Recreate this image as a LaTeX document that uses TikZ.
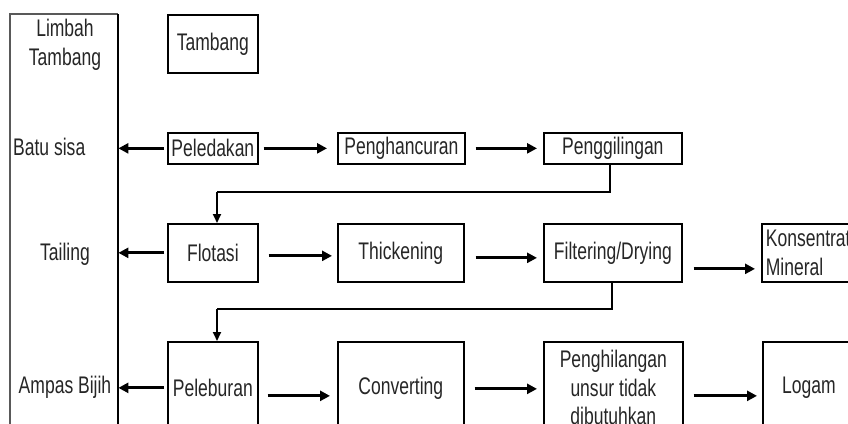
\documentclass[tikz,border=0pt]{standalone}
\usepackage{fontspec}
\setmainfont{Liberation Sans}[FakeStretch=0.73]
\usetikzlibrary{arrows.meta,calc}
\begin{document}
\begin{tikzpicture}[x=1pt,y=-1pt,
  txt/.style={font=\fontsize{24}{28.5}\selectfont, text=black!85},
  box/.style={txt, draw=black, line width=1.7pt, inner sep=0pt, anchor=north west, align=center},
  lbl/.style={txt, inner sep=0pt},
  arr/.style={line width=2.8pt, -{Triangle[length=10pt,width=10pt]}},
  conn/.style={line width=1.7pt},
  connarr/.style={line width=1.7pt, -{Triangle[length=9pt,width=8pt]}}]
\useasboundingbox (0,0) rectangle (848,423);
\clip (0,0) rectangle (848,423);
\fill[white] (0,0) rectangle (848,423);
% left waste column
\draw[line width=1.1pt, draw=black!65] (118,14) -- (10,14) -- (10,450);
\node[draw=none, minimum width=108pt, minimum height=436pt, anchor=north west, inner sep=0pt] (limbah) at (10,14) {};
\draw[line width=1.9pt] (limbah.north east) -- (limbah.south east);
\node[lbl, align=center] (lt) at (65,45) {Limbah\\Tambang};
\node[lbl, anchor=west] (batu) at (13,147) {Batu sisa};
\node[lbl] (tail) at (65,254) {Tailing};
\node[lbl] (ampas) at (65,387) {Ampas Bijih};
% row 0
\node[box, minimum width=90pt, minimum height=58pt] (tam) at (167,14) {Tambang};
% row 1
\node[box, minimum width=90pt, minimum height=31pt] (pel) at (167,132) {Peledakan};
\node[box, minimum width=127pt, minimum height=31pt] (phc) at (337,132) {Penghancuran};
\node[box, minimum width=138pt, minimum height=31pt] (pgl) at (543,132) {Penggilingan};
% row 2
\node[box, minimum width=90pt, minimum height=58pt] (flo) at (167,223) {Flotasi};
\node[box, minimum width=126pt, minimum height=58pt] (thk) at (337,223) {Thickening};
\node[box, minimum width=138pt, minimum height=58pt] (fil) at (543,223) {Filtering/Drying};
\node[box, minimum height=58pt, text width=104pt, align=left, inner xsep=4pt] (kon) at (761,223) {Konsentrat\\Mineral};
% row 3
\node[box, minimum width=90pt, minimum height=92pt] (plb) at (167,341) {Peleburan};
\node[box, minimum width=126pt, minimum height=92pt] (cnv) at (337,341) {Converting};
\node[box, minimum width=139pt, minimum height=92pt] (phl) at (543,341) {Penghilangan\\unsur tidak\\dibutuhkan};
\node[box, minimum width=92pt, minimum height=92pt] (log) at (762,341) {Logam};
% arrows to waste column
\draw[arr, shorten <=3pt] (pel.west) -- (pel.west -| limbah.east);
\draw[arr, shorten <=3pt] (flo.west) -- (flo.west -| limbah.east);
\draw[arr, shorten <=3pt] (plb.west) -- (plb.west -| limbah.east);
% row 1 arrows
\draw[arr, shorten <=5pt, shorten >=10pt] (pel.east) -- (phc.west);
\draw[arr, shorten <=10pt, shorten >=6pt] (phc.east) -- (pgl.west);
% row 2 arrows
\draw[arr, shorten <=10pt, shorten >=5pt] ([yshift=-3pt]flo.east) -- ([yshift=-3pt]thk.west);
\draw[arr, shorten <=11pt, shorten >=6pt] ([yshift=-5pt]thk.east) -- ([yshift=-5pt]fil.west);
\draw[arr, shorten <=11pt, shorten >=6pt] ([yshift=-16pt]fil.east) -- ([yshift=-16pt]kon.west);
% row 3 arrows
\draw[arr, shorten <=9pt, shorten >=7pt] ([yshift=-8pt]plb.east -| plb.east) -- ([yshift=-8pt]plb.east -| cnv.west);
\draw[arr, shorten <=10pt, shorten >=6pt] ([yshift=-1pt]cnv.east) -- ([yshift=-1pt]cnv.east -| phl.west);
\draw[arr, shorten <=10pt, shorten >=5pt] ([yshift=-8pt]phl.east) -- ([yshift=-8pt]phl.east -| log.west);
% connectors between rows
\coordinate (c1) at (217,192);
\coordinate (c2) at (217,309);
\draw[conn] ([xshift=-3pt]pgl.south) |- (c1);
\draw[connarr] (c1) -- (c1 |- flo.north);
\draw[conn] ([xshift=-1pt]fil.south) |- (c2);
\draw[connarr] (c2) -- (c2 |- plb.north);
\end{tikzpicture}
\end{document}
